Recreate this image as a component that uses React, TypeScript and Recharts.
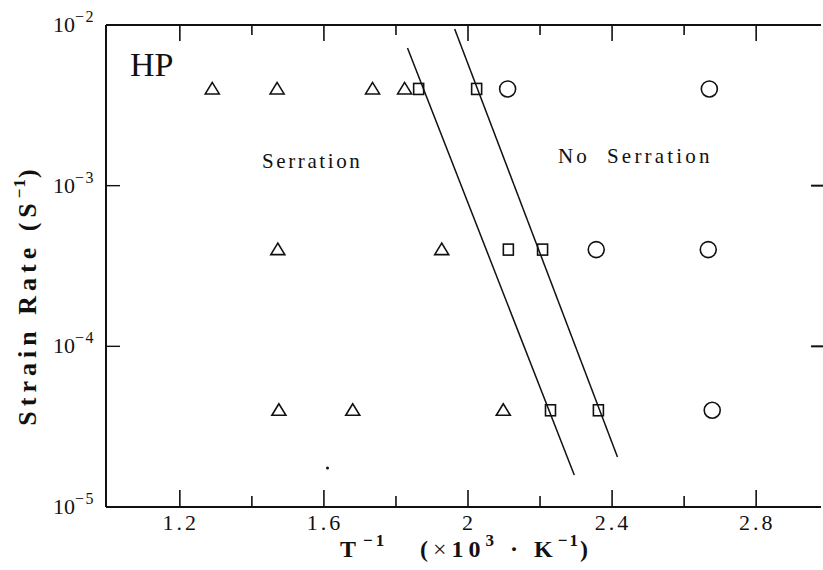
import React from "react";
import {
  ComposedChart,
  Scatter,
  Line,
  XAxis,
  YAxis,
  Customized,
} from "recharts";

// inverse temperature (x10^3 K^-1) vs strain rate (s^-1)
const triangles = [
  { t: 1.29, rate: 4e-3 },
  { t: 1.47, rate: 4e-3 },
  { t: 1.735, rate: 4e-3 },
  { t: 1.824, rate: 4e-3 },
  { t: 1.472, rate: 4e-4 },
  { t: 1.927, rate: 4e-4 },
  { t: 1.475, rate: 4e-5 },
  { t: 1.68, rate: 4e-5 },
  { t: 2.098, rate: 4e-5 },
];

const squares = [
  { t: 1.863, rate: 4e-3 },
  { t: 2.024, rate: 4e-3 },
  { t: 2.112, rate: 4e-4 },
  { t: 2.207, rate: 4e-4 },
  { t: 2.229, rate: 4e-5 },
  { t: 2.362, rate: 4e-5 },
];

const circles = [
  { t: 2.11, rate: 4e-3 },
  { t: 2.67, rate: 4e-3 },
  { t: 2.356, rate: 4e-4 },
  { t: 2.667, rate: 4e-4 },
  { t: 2.678, rate: 4e-5 },
];

const speck = [{ t: 1.61, rate: 1.75e-5 }];

const boundaryLow = [
  { t: 1.832, rate: 7.2e-3 },
  { t: 2.295, rate: 1.58e-5 },
];
const boundaryHigh = [
  { t: 1.963, rate: 9.44e-3 },
  { t: 2.415, rate: 2.05e-5 },
];

const xTicks = [1.2, 1.4, 1.6, 1.8, 2.0, 2.2, 2.4, 2.6, 2.8];
const xLabels: Record<string, string> = { "1.2": "1.2", "1.6": "1.6", "2": "2", "2.4": "2.4", "2.8": "2.8" };
const yTicks = [1e-5, 1e-4, 1e-3, 1e-2];
const yExp: Record<string, string> = { "0.00001": "-5", "0.0001": "-4", "0.001": "-3", "0.01": "-2" };

const FONT = "'Liberation Serif', 'Times New Roman', serif";
const INK = "#111";

const Triangle = (p: any) => (
  <polygon
    points={`${p.cx},${p.cy - 6.5} ${p.cx - 7},${p.cy + 5} ${p.cx + 7},${p.cy + 5}`}
    fill="none"
    stroke={INK}
    strokeWidth={1.6}
  />
);
const Square = (p: any) => (
  <rect x={p.cx - 5} y={p.cy - 5.5} width={10} height={11} fill="none" stroke={INK} strokeWidth={1.6} />
);
const Ring = (p: any) => <circle cx={p.cx} cy={p.cy} r={8} fill="none" stroke={INK} strokeWidth={1.6} />;
const Dot = (p: any) => <circle cx={p.cx} cy={p.cy} r={1.5} fill={INK} />;

const isMajor = (v: number) => xLabels[String(v)] !== undefined;

const BottomTick = (p: any) => {
  const v = p.payload.value;
  const len = isMajor(v) ? 17 : 11;
  return (
    <g>
      <line x1={p.x} x2={p.x} y1={p.y} y2={p.y - len} stroke={INK} strokeWidth={1.6} />
      {isMajor(v) && (
        <text x={p.x + 1} y={p.y + 23} textAnchor="middle" fontFamily={FONT} fontSize={22} letterSpacing={3} fill={INK}>
          {xLabels[String(v)]}
        </text>
      )}
    </g>
  );
};

const TopTick = (p: any) => {
  const v = p.payload.value;
  const len = isMajor(v) ? 16 : 10;
  return <line x1={p.x} x2={p.x} y1={p.y} y2={p.y + len} stroke={INK} strokeWidth={1.6} />;
};

const LeftTick = (p: any) => {
  const v = p.payload.value;
  const inner = v > 1e-5 && v < 1e-2;
  return (
    <g>
      {inner && <line x1={p.x} x2={p.x + 14} y1={p.y} y2={p.y} stroke={INK} strokeWidth={1.4} />}
      <text x={p.x - 11} y={p.y + 7} textAnchor="end" fontFamily={FONT} fontSize={22} fill={INK}>
        10
        <tspan dy={-10} fontSize={16} letterSpacing={1.5}>
          {yExp[String(v)].replace("-", "\u2212")}
        </tspan>
      </text>
    </g>
  );
};

const RightTick = (p: any) => {
  const v = p.payload.value;
  if (!(v > 1e-5 && v < 1e-2)) return <g />;
  return <line x1={p.x + 2} x2={p.x - 10} y1={p.y} y2={p.y} stroke={INK} strokeWidth={2} />;
};

const Annotations = () => (
  <g fill={INK}>
    <text x={130} y={76} fontFamily={FONT} fontSize={34}>
      HP
    </text>
    <text x={262} y={168} fontFamily={FONT} fontSize={21} letterSpacing={2.6}>
      Serration
    </text>
    <text x={558} y={163} fontFamily={FONT} fontSize={21} letterSpacing={3.2}>
      No{"\u00a0"} Serration
    </text>
    <text
      transform="translate(36,295) rotate(-90)"
      textAnchor="middle"
      fontFamily={FONT}
      fontSize={26}
      fontWeight="bold"
      letterSpacing={5}
    >
      Strain Rate (S
      <tspan dy={-11} fontSize={17} letterSpacing={1}>
        {"\u22121"}
      </tspan>
      <tspan dy={11}>)</tspan>
    </text>
    <text x={340} y={557} fontFamily={FONT} fontSize={24} fontWeight="bold" letterSpacing={7}>
      T
      <tspan dy={-11} fontSize={17} letterSpacing={3}>
        {"\u22121"}
      </tspan>
    </text>
    <text x={420} y={557} fontFamily={FONT} fontSize={24} fontWeight="bold" letterSpacing={5}>
      (
      <tspan fontWeight="normal">{"\u00d7"}</tspan>
      10
      <tspan dy={-11} fontSize={17}>
        3
      </tspan>
      <tspan dy={11}>{"\u00a0·\u00a0"}K</tspan>
      <tspan dy={-11} fontSize={17} letterSpacing={2}>
        {"\u22121"}
      </tspan>
      <tspan dy={11}>)</tspan>
    </text>
  </g>
);

export default function App() {
  return (
    <div style={{ position: "absolute", left: 0, top: 0, width: 823, height: 570, background: "#fff", fontFamily: FONT }}>
      <ComposedChart width={823} height={570} margin={{ top: 23, right: 0, bottom: 33, left: 46 }}>
        <XAxis
          xAxisId="b"
          dataKey="t"
          type="number"
          domain={[0.995, 2.98]}
          ticks={xTicks}
          tick={<BottomTick />}
          tickLine={false}
          tickSize={0}
          tickMargin={0}
          height={30}
          axisLine={{ stroke: INK, strokeWidth: 2 }}
          allowDataOverflow
        />
        <XAxis
          xAxisId="t"
          orientation="top"
          dataKey="t"
          type="number"
          domain={[0.995, 2.98]}
          ticks={xTicks}
          tick={<TopTick />}
          tickLine={false}
          tickSize={0}
          tickMargin={0}
          height={2}
          axisLine={{ stroke: INK, strokeWidth: 2 }}
          allowDataOverflow
        />
        <YAxis
          yAxisId="l"
          dataKey="rate"
          type="number"
          scale="log"
          domain={[1e-5, 1e-2]}
          ticks={yTicks}
          tick={<LeftTick />}
          tickLine={false}
          tickSize={0}
          tickMargin={0}
          width={60}
          axisLine={{ stroke: INK, strokeWidth: 2 }}
          allowDataOverflow
        />
        <YAxis
          yAxisId="r"
          orientation="right"
          dataKey="rate"
          type="number"
          scale="log"
          domain={[1e-5, 1e-2]}
          ticks={yTicks}
          tick={<RightTick />}
          tickLine={false}
          tickSize={0}
          tickMargin={0}
          width={2}
          axisLine={false}
          allowDataOverflow
        />
        <Line xAxisId="b" yAxisId="l" data={boundaryLow} dataKey="rate" type="linear" stroke={INK} strokeWidth={1.5} dot={false} isAnimationActive={false} />
        <Line xAxisId="b" yAxisId="l" data={boundaryHigh} dataKey="rate" type="linear" stroke={INK} strokeWidth={1.5} dot={false} isAnimationActive={false} />
        <Scatter xAxisId="b" yAxisId="l" data={triangles} dataKey="rate" shape={Triangle} isAnimationActive={false} />
        <Scatter xAxisId="b" yAxisId="l" data={squares} dataKey="rate" shape={Square} isAnimationActive={false} />
        <Scatter xAxisId="b" yAxisId="l" data={circles} dataKey="rate" shape={Ring} isAnimationActive={false} />
        <Scatter xAxisId="b" yAxisId="l" data={speck} dataKey="rate" shape={Dot} isAnimationActive={false} />
        <Customized component={Annotations} />
      </ComposedChart>
    </div>
  );
}
